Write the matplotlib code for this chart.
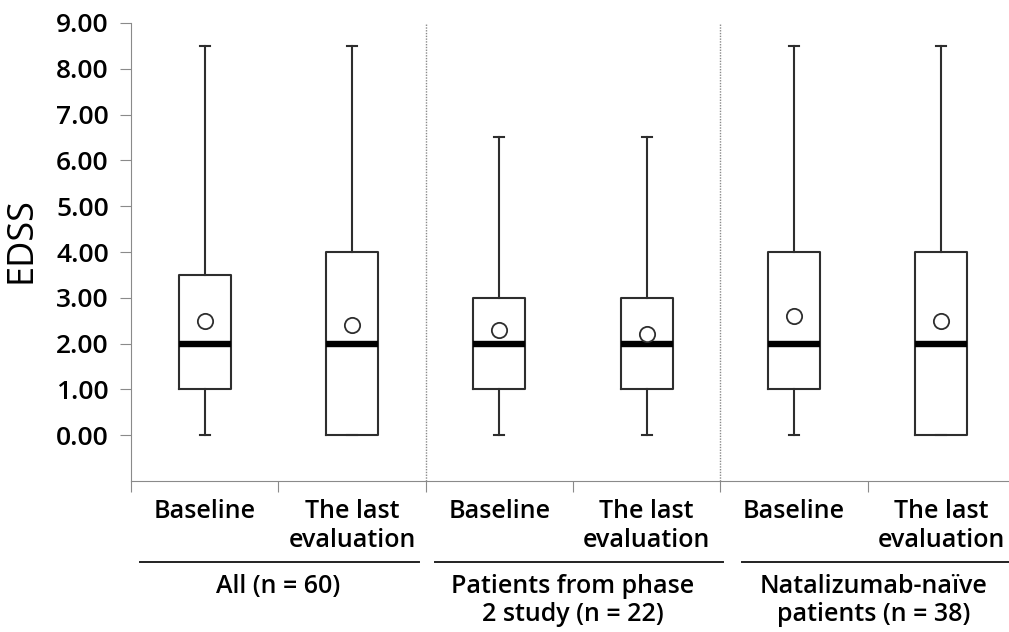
import matplotlib.pyplot as plt
from matplotlib.transforms import blended_transform_factory

plt.rcParams['font.family'] = ['Open Sans', 'DejaVu Sans']

# data
categories = ["Baseline", "The last\nevaluation"] * 3
groups = ["All (n = 60)", "Patients from phase\n2 study (n = 22)",
          "Natalizumab-naïve\npatients (n = 38)"]
whisker_low = [0, 0, 0, 0, 0, 0]
q1 = [1, 0, 1, 1, 1, 0]
medians = [2, 2, 2, 2, 2, 2]
q3 = [3.5, 4, 3, 3, 4, 4]
whisker_high = [8.5, 8.5, 6.5, 6.5, 8.5, 8.5]
means = [2.5, 2.4, 2.3, 2.22, 2.6, 2.5]
yticks = [0, 1, 2, 3, 4, 5, 6, 7, 8, 9]


def main():
    W, H = 1009, 632
    fig = plt.figure(figsize=(W / 100, H / 100), dpi=100)
    ax = fig.add_axes([131 / W, (H - 481) / H, 884 / W, 458 / H])

    stats = []
    for i in range(len(categories)):
        stats.append(dict(whislo=whisker_low[i], q1=q1[i], med=medians[i],
                          q3=q3[i], whishi=whisker_high[i], mean=means[i],
                          fliers=[]))
    pos = [i + 0.5 for i in range(len(stats))]
    line_c = "#2e2e2e"
    ax.bxp(stats, positions=pos, widths=0.353, capwidths=0.07,
           showmeans=True, patch_artist=False,
           boxprops=dict(color=line_c, lw=1.5),
           whiskerprops=dict(color=line_c, lw=1.5),
           capprops=dict(color=line_c, lw=1.5),
           medianprops=dict(color="black", lw=4.6, solid_capstyle="butt"),
           meanprops=dict(marker="o", markersize=11, markerfacecolor="white",
                          markeredgecolor=line_c, markeredgewidth=1.3))

    # dotted separators between groups
    for x in [2, 4]:
        ax.plot([x, x], [-1, 9], color="#8a8a8a", lw=1.0, ls=(0, (1, 1)),
                clip_on=False)

    wt = "semibold"
    ax.set_xlim(0, 6)
    ax.set_ylim(-1, 9)
    ax.set_yticks(yticks)
    ax.set_yticklabels([f"{v:.2f}" for v in yticks], fontsize=19, fontweight=wt)
    ax.set_xticks(range(7))
    ax.set_xticklabels([])
    ax.set_xticks(pos, minor=True)
    ax.set_xticklabels(categories, minor=True, fontsize=18, va="top",
                       linespacing=1.2, fontweight=wt)
    ax.tick_params(axis="x", which="minor", length=0, pad=13)
    ax.tick_params(axis="x", which="major", length=8, color="#8a8a8a")
    ax.tick_params(axis="y", length=8, color="#8a8a8a", pad=8)
    for s in ["top", "right"]:
        ax.spines[s].set_visible(False)
    ax.spines["left"].set_color("#8a8a8a")
    ax.spines["bottom"].set_color("#8a8a8a")
    ax.set_ylabel("EDSS", fontsize=26)
    ax.yaxis.set_label_coords(-0.104, 0.525)

    # group labels underneath
    tr = blended_transform_factory(ax.transData, fig.transFigure)
    spans = [(0.06, 1.955), (2.06, 4.02), (4.15, 6.0)]
    centers = [1.0, 3.0, 5.04]
    line_y = 1 - 562 / H
    for (a, b), cx, g in zip(spans, centers, groups):
        ax.plot([a, b], [line_y, line_y], color="#222222", lw=1.4,
                transform=tr, clip_on=False)
        ax.text(cx, line_y - 12 / H, g, transform=tr, ha="center", va="top",
                fontsize=18, linespacing=1.15, fontweight=wt)

    fig.savefig("out.png", dpi=100)


if __name__ == "__main__":
    main()
